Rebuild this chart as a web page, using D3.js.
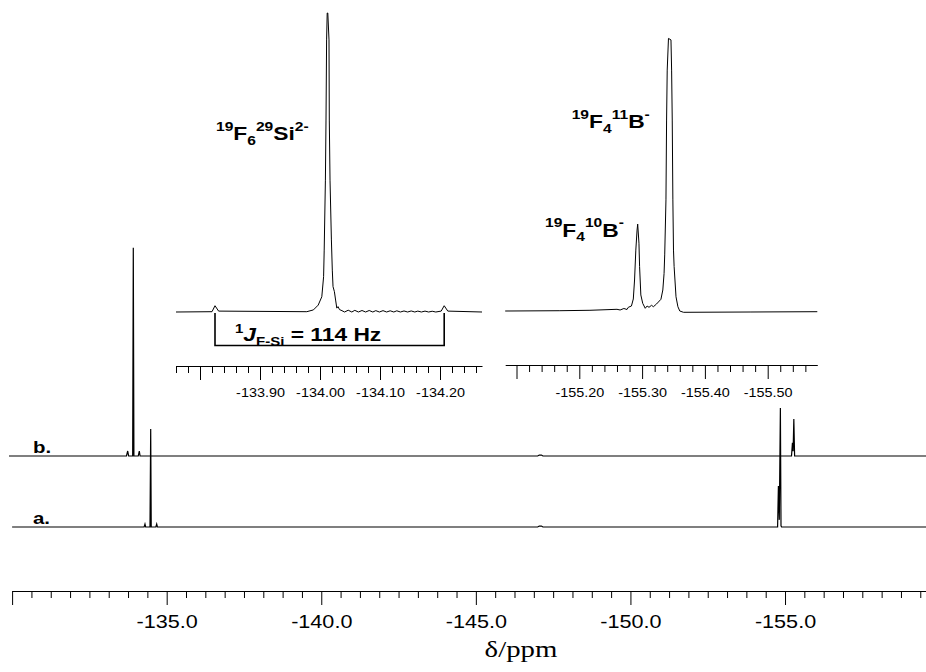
<!DOCTYPE html>
<html>
<head>
<meta charset="utf-8">
<script src="https://cdn.jsdelivr.net/npm/d3@7"></script>
<style>
  body { margin: 0; background: #fff; }
  svg { display: block; }
  text { white-space: pre; }
</style>
</head>
<body>
<div id="chart"></div>
<script>
// ---- data (ppm, intensity) ----

// full spectra, intensity 100 = tallest BF4 peak of trace a
const traceA = [
  [-130.00, 0],
  [-134.27, 0], [-134.298, 2.5], [-134.32, 0],
  [-134.46, 0], [-134.483, 82.4], [-134.50, 0],
  [-134.65, 0], [-134.677, 2.5], [-134.70, 0],
  [-147.00, 0], [-147.05, 0.8], [-147.12, 0.8], [-147.17, 0],
  [-154.76, 0], [-154.786, 34.5], [-154.815, 6], [-154.85, 100], [-154.87, 1], [-154.89, 0],
  [-159.56, 0]
];
const traceB = [
  [-129.90, 0],
  [-133.70, 0], [-133.739, 4.2], [-133.77, 0],
  [-133.90, 0], [-133.92, 175], [-133.94, 0],
  [-134.08, 0], [-134.114, 4.2], [-134.14, 0],
  [-147.00, 0], [-147.05, 0.8], [-147.12, 0.8], [-147.17, 0],
  [-155.21, 0], [-155.24, 11], [-155.262, 4], [-155.285, 31], [-155.31, 0],
  [-159.56, 0]
];

// SiF6 expansion, intensity 100 = central peak
const inset1Trace = [
  [-133.760, 0], [-133.820, 0.1], [-133.825, 2.1], [-133.831, 0.3],
  [-133.978, 0.1], [-133.989, 0.7], [-133.997, 2.3], [-134.003, 5.1], [-134.006, 11.8],
  [-134.007, 20.7], [-134.009, 44.1], [-134.010, 64.2], [-134.011, 91], [-134.012, 100],
  [-134.013, 100], [-134.015, 91], [-134.0155, 64.2], [-134.0167, 44.1], [-134.019, 24.1],
  [-134.0205, 14], [-134.0217, 8.5], [-134.024, 6.8], [-134.026, 4], [-134.028, 1.3],
  [-134.030, 1.8], [-134.0325, 0.8],
  [-134.035, 0.6], [-134.041, 0], [-134.047, 0.6], [-134.053, 0], [-134.058, 0.55],
  [-134.064, 0], [-134.070, 0.5], [-134.076, 0], [-134.082, 0.5], [-134.088, 0],
  [-134.093, 0.45], [-134.099, 0], [-134.105, 0.45], [-134.111, 0], [-134.117, 0.4],
  [-134.123, 0], [-134.128, 0.4], [-134.134, 0], [-134.140, 0.35], [-134.146, 0],
  [-134.152, 0.35], [-134.158, 0], [-134.163, 0.3], [-134.169, 0], [-134.175, 0.3],
  [-134.181, 0], [-134.187, 0.25], [-134.193, 0],
  [-134.202, 0.3], [-134.207, 2.1], [-134.213, 0.3], [-134.270, 0]
];
const jSatellites = [-133.825, -134.207];

// BF4 expansion, same intensity units
const inset2Trace = [
  [-155.082, 0.33], [-155.169, 0.43], [-155.217, 0.57], [-155.260, 0.9],
  [-155.265, 0.67], [-155.271, 1.17], [-155.276, 0.84], [-155.278, 1.57], [-155.283, 2.0],
  [-155.286, 4.35], [-155.288, 10.7], [-155.290, 20.7], [-155.292, 27.4], [-155.293, 29.4],
  [-155.295, 23], [-155.296, 15.2], [-155.298, 5.7], [-155.301, 2.9], [-155.305, 1.24],
  [-155.308, 2], [-155.311, 1.57], [-155.315, 2.24], [-155.318, 1.77], [-155.323, 2.68],
  [-155.330, 4.25], [-155.333, 7.36], [-155.335, 12.9], [-155.336, 19.1], [-155.338, 37.5],
  [-155.339, 64.2], [-155.340, 80.9], [-155.342, 91.5], [-155.346, 91], [-155.347, 80.9],
  [-155.348, 64.2], [-155.349, 37.5], [-155.350, 20.7], [-155.351, 15.2], [-155.354, 5.1],
  [-155.357, 1.77], [-155.360, 0.33], [-155.366, -0.1], [-155.472, 0], [-155.579, 0.1]
];

const mainMajors = [-130, -135, -140, -145, -150, -155];
const mainLabels = ["", "-135.0", "-140.0", "-145.0", "-150.0", "-155.0"];
const mainMinorStep = 0.625;

const inset1Majors = [-133.80, -133.90, -134.00, -134.10, -134.20];
const inset1Labels = ["", "-133.90", "-134.00", "-134.10", "-134.20"];
const inset2Majors = [-155.10, -155.20, -155.30, -155.40, -155.50];
const inset2Labels = ["", "-155.20", "-155.30", "-155.40", "-155.50"];
const insetMinorStep = 0.02;

const labelSi = [["19", "sup"], ["F", "main"], ["6", "sub"], ["29", "sup"], ["Si", "main"], ["2-", "sup"]];
const labelB11 = [["19", "sup"], ["F", "main"], ["4", "sub"], ["11", "sup"], ["B", "main"], ["-", "sup"]];
const labelB10 = [["19", "sup"], ["F", "main"], ["4", "sub"], ["10", "sup"], ["B", "main"], ["-", "sup"]];
const labelJ = [["1", "sup"], ["J", "it"], ["F-Si", "sub"], [" = 114 Hz", "main"]];

// ---- drawing ----
const width = 926, height = 672;
const SX = 1.2; // the original picture is stretched sideways
const SANS = "'Liberation Sans', Arial, sans-serif";

const svg = d3.select("#chart").append("svg")
  .attr("width", width).attr("height", height);

// main spectra
const x = d3.scaleLinear().domain([-130, -159.56]).range([12.1, 926]);
const h = d3.scaleLinear().domain([0, 100]).range([0, 119]);
const baseB = 456, baseA = 527;

function trace(data, xs, y0, hs, sw) {
  svg.append("path")
    .datum(data)
    .attr("fill", "none")
    .attr("stroke", "#000")
    .attr("stroke-width", sw)
    .attr("stroke-linejoin", "miter")
    .attr("d", d3.line().x(d => xs(d[0])).y(d => y0 - hs(d[1])));
}

trace(traceB, x, baseB, h, 1.2);
trace(traceA, x, baseA, h, 1.2);

function axis(scale, y, majors, labels, step, fontSize, labelY) {
  const [d0, d1] = scale.domain();
  const lo = Math.min(d0, d1), hi = Math.max(d0, d1);
  const minors = d3.range(-600, 600)
    .map(i => +(majors[0] + i * step).toFixed(4))
    .filter(v => v >= lo - 1e-9 && v <= hi + 1e-9 && !majors.some(m => Math.abs(m - v) < 1e-6));

  const g = svg.append("g").attr("transform", `translate(0,${y})`);
  g.call(d3.axisBottom(scale).tickValues(minors).tickSize(7).tickSizeOuter(0).tickFormat(""));
  const gm = g.append("g")
    .call(d3.axisBottom(scale).tickValues(majors).tickSize(14).tickSizeOuter(0)
      .tickFormat((d, i) => labels[i]));
  gm.select(".domain").remove();
  g.selectAll("line, path").attr("stroke", "#000");
  gm.selectAll(".tick text")
    .attr("y", labelY).attr("dy", 0)
    .attr("fill", "#000")
    .attr("font-family", SANS)
    .attr("font-size", fontSize)
    .attr("transform", `scale(${SX},1)`);
}

axis(x, 591, mainMajors, mainLabels, mainMinorStep, 18, 37);

// insets
const x1 = d3.scaleLinear().domain([-133.76, -134.27]).range([176, 482]);
const x2 = d3.scaleLinear().domain([-155.082, -155.579]).range([505.2, 817.3]);
const hi = d3.scaleLinear().domain([0, 100]).range([0, 299]);

trace(inset1Trace, x1, 312, hi, 1);
trace(inset2Trace, x2, 312, hi, 1);

axis(x1, 366, inset1Majors, inset1Labels, insetMinorStep, 12, 30.7);
axis(x2, 365, inset2Majors, inset2Labels, insetMinorStep, 12, 31.7);

// coupling bracket
svg.append("path")
  .attr("fill", "none")
  .attr("stroke", "#000")
  .attr("stroke-width", 1.6)
  .attr("d", `M${x1(jSatellites[0])},313V345.5H${x1(jSatellites[1])}V313`);

function label(parts, px, py, opt) {
  const t = svg.append("text")
    .attr("transform", `translate(${px},${py}) scale(${SX},1)`)
    .attr("font-family", SANS)
    .attr("font-weight", "bold")
    .attr("fill", "#000");
  let cur = 0;
  parts.forEach(([s, role]) => {
    const off = role === "sup" ? opt.sup : role === "sub" ? opt.sub : 0;
    t.append("tspan")
      .attr("dy", off - cur)
      .attr("font-size", role === "sup" || role === "sub" ? opt.small : opt.big)
      .attr("font-style", role === "it" ? "italic" : "normal")
      .text(s);
    cur = off;
  });
}

const opt = { big: 19, small: 13, sup: -9.5, sub: 4.5 };
label(labelSi, 216, 140, opt);
label(labelB11, 571.7, 128.3, opt);
label(labelB10, 545, 236.7, opt);
label(labelJ, 235, 340.7, { big: 19, small: 12.5, sup: -7.5, sub: 5.5 });

// trace names
[["b.", baseB - 3], ["a.", baseA - 3]].forEach(([s, yy]) => {
  svg.append("text")
    .attr("transform", `translate(33,${yy}) scale(${SX},1)`)
    .attr("font-family", SANS)
    .attr("font-weight", "bold")
    .attr("font-size", 17)
    .text(s);
});

// axis title
svg.append("text")
  .attr("transform", `translate(521,657) scale(${SX},1)`)
  .attr("text-anchor", "middle")
  .attr("font-family", "'Liberation Serif', 'Times New Roman', serif")
  .attr("font-size", 24)
  .text("δ/ppm");
</script>
</body>
</html>
